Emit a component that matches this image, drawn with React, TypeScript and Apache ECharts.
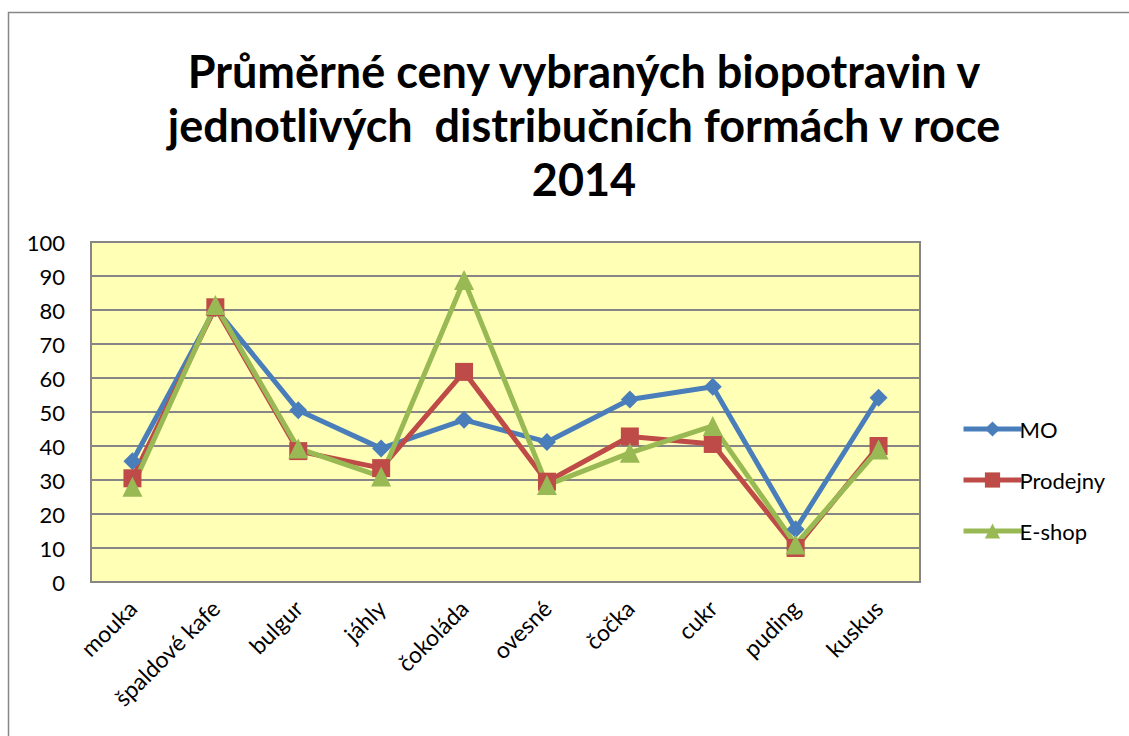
import React, { useEffect, useRef } from "react";
import * as echarts from "echarts";

const categories = ["mouka", "špaldové kafe", "bulgur", "jáhly", "čokoláda", "ovesné", "čočka", "cukr", "puding", "kuskus"];
const moValues = [35.5, 80.5, 50.5, 39.3, 47.7, 41.2, 53.7, 57.4, 15.5, 54.2];
const prodejnyValues = [30.5, 80.8, 38.5, 33.5, 61.8, 29.5, 42.8, 40.6, 10, 40];
const eshopValues = [28, 81.5, 39.3, 31, 88.8, 28.5, 38, 45.9, 11, 39];
const yTicks = { min: 0, max: 100, interval: 10 };
const titleText = "Průměrné ceny vybraných biopotravin v\njednotlivých  distribučních formách v roce\n2014";

const FONT = "Lato, 'Open Sans', sans-serif";

export default function App() {
  const ref = useRef<HTMLDivElement>(null);
  useEffect(() => {
    if (!ref.current) return;
    const chart = echarts.init(ref.current, undefined, { renderer: "svg" });
    const mk = (name: string, data: number[], color: string, symbol: string, size: number) => ({
      name,
      type: "line",
      data,
      symbol,
      symbolSize: size,
      showSymbol: true,
      lineStyle: { color, width: 5 },
      itemStyle: { color },
      emphasis: { disabled: true },
    });
    chart.setOption({
      animation: false,
      backgroundColor: "#ffffff",
      textStyle: { fontFamily: FONT },
      title: {
        text: titleText,
        left: 579,
        top: 39,
        textAlign: "center",
        textStyle: { fontFamily: FONT, fontSize: 45, fontWeight: "bold", color: "#000", lineHeight: 54 },
      },
      graphic: [
        {
          type: "rect",
          shape: { x: 8.5, y: 12.5, width: 1300, height: 900 },
          style: { fill: "none", stroke: "#868686", lineWidth: 1.5 },
          silent: true,
        },
      ],
      legend: {
        orient: "vertical",
        left: 956,
        top: 413,
        itemWidth: 58,
        itemHeight: 19,
        itemGap: 29,
        lineStyle: { width: 5 },
        textStyle: { fontFamily: FONT, fontSize: 22, color: "#000", padding: [0, 0, 0, -7] },
        data: ["MO", "Prodejny", "E-shop"],
      },
      grid: { left: 91, right: 209, top: 242, bottom: 154, containLabel: false, show: true, backgroundColor: "#ffffb5", borderColor: "#868686", borderWidth: 2 },
      xAxis: {
        type: "category",
        data: categories,
        boundaryGap: true,
        axisLine: { show: true, lineStyle: { color: "#868686", width: 2 } },
        axisTick: { show: false },
        axisLabel: { rotate: 45, margin: 22, fontFamily: FONT, fontSize: 23, color: "#000", interval: 0 },
      },
      yAxis: {
        type: "value",
        min: yTicks.min,
        max: yTicks.max,
        interval: yTicks.interval,
        axisLine: { show: true, lineStyle: { color: "#868686", width: 2 } },
        axisTick: { show: false },
        splitLine: { show: true, lineStyle: { color: "#868686", width: 2 } },
        axisLabel: { margin: 26, fontFamily: FONT, fontSize: 22, color: "#000" },
      },
      series: [
        mk("MO", moValues, "#4a7ebb", "diamond", 18),
        mk("Prodejny", prodejnyValues, "#be4b48", "rect", 18),
        mk("E-shop", eshopValues, "#98b954", "triangle", 20),
      ],
    });
    return () => chart.dispose();
  }, []);
  return <div ref={ref} style={{ position: "fixed", left: 0, top: 0, width: 1129, height: 736 }} />;
}
